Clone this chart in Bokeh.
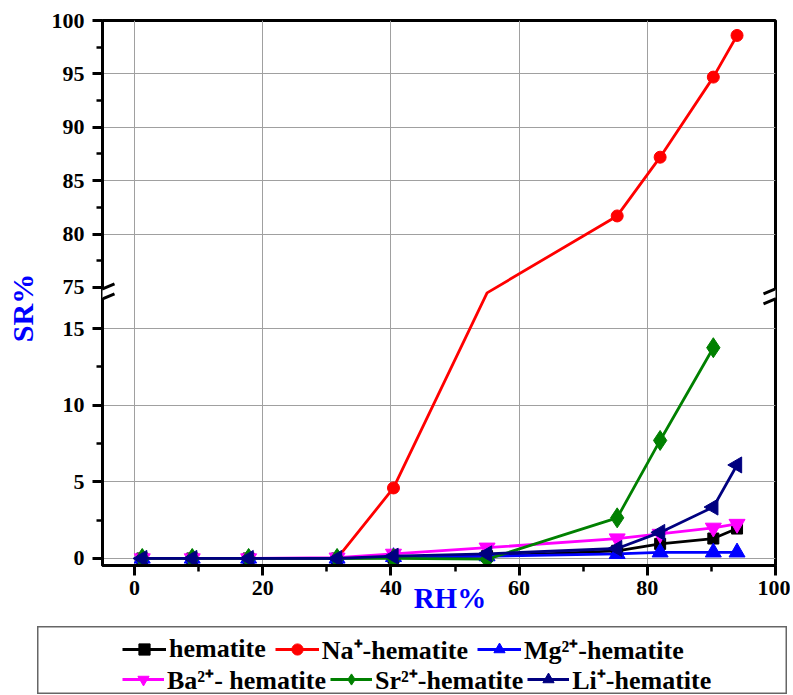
import math
from bokeh.plotting import figure
from bokeh.models import (ColumnDataSource, Range1d, FixedTicker, CustomJSTickFormatter,
                          CustomJSTransform, Legend, LegendItem, Arrow, Spacer)
from bokeh.layouts import column, row
from bokeh.transform import transform
from bokeh.embed import file_html
from bokeh.resources import INLINE

# ---------------- data ----------------
RH = [1.2, 9.0, 17.8, 31.6, 40.4, 55.0, 75.3, 82.0, 90.3, 94.0]
hematite = [0.0, 0.0, 0.0, 0.0, 0.05, 0.15, 0.5, 0.95, 1.3, 1.95]
na_hematite = [0.0, 0.0, 0.0, 0.0, 4.6, 74.5, 81.7, 87.2, 94.7, 98.6]
mg_hematite = [0.0, 0.0, 0.0, 0.0, 0.1, 0.15, 0.3, 0.4, 0.4, 0.4]
ba_hematite = [0.0, 0.0, 0.0, 0.05, 0.3, 0.7, 1.3, 1.6, 2.0, 2.25]
sr_hematite = [0.0, 0.0, 0.0, 0.0, 0.0, -0.05, 2.65, 7.7, 13.75]
li_hematite = [0.0, 0.0, 0.0, 0.0, 0.15, 0.3, 0.65, 1.7, 3.35, 6.1]

labels = ["hematite", "Na\u207a-hematite", "Mg\u00b2\u207a-hematite",
          "Ba\u00b2\u207a- hematite", "Sr\u00b2\u207a-hematite", "Li\u207a-hematite"]
values = [hematite, na_hematite, mg_hematite, ba_hematite, sr_hematite, li_hematite]

x_ticks = [0, 20, 40, 60, 80, 100]
x_minor = [10, 30, 50, 70, 90]
y_ticks = [0, 5, 10, 15, 75, 80, 85, 90, 95, 100]
y_minor = [2.5, 7.5, 12.5, 77.5, 82.5, 87.5, 92.5, 97.5]
y_grid = [0, 5, 10, 15, 80, 85, 90, 95]

# ---------------- styles ----------------
colors = ["black", "#FF0000", "#0000FF", "#FF00FF", "#008000", "#000080"]
markers = ["square", "circle", "triangle", "inverted_triangle", "diamond", "triangle"]
msizes = [11, 12, 16, 16, 20, 16]
angles = [0, 0, 0, 0, 0, math.pi / 2]
FONT = "Liberation Serif"
NBSP = "\u00a0"

# broken axis mapping
LOW_MAX = 17.2
UP_MIN = 74.5
UP_T0 = 17.33
K = 0.6968


def fwd(y):
    if y <= LOW_MAX:
        return y
    if y >= UP_MIN:
        return UP_T0 + (y - UP_MIN) * K
    return LOW_MAX + (y - LOW_MAX) / (UP_MIN - LOW_MAX) * (UP_T0 - LOW_MAX)


JS_F = """
function f(y) {
  if (y <= L) return y;
  if (y >= U) return T + (y - U) * k;
  return L + (y - L) / (U - L) * (T - L);
}
"""
jargs = dict(L=LOW_MAX, U=UP_MIN, T=UP_T0, k=K)
brk = CustomJSTransform(args=jargs, func=JS_F + "return f(x);",
                        v_func=JS_F + "const out = new Float64Array(xs.length);"
                               "for (let i = 0; i < xs.length; i++) { out[i] = f(xs[i]); }"
                               "return out;")

Y_MIN = -0.46
X_MIN, X_MAX = -5, 100

p = figure(width=790, height=626, toolbar_location=None, output_backend="svg",
           x_range=Range1d(X_MIN, X_MAX), y_range=Range1d(Y_MIN, fwd(100)),
           min_border_left=102, min_border_right=15, min_border_top=20, min_border_bottom=61,
           background_fill_color="white", border_fill_color="white")
p.outline_line_color = "black"
p.outline_line_width = 3

# grids
p.xgrid.ticker = FixedTicker(ticks=x_ticks[:-1])
p.ygrid.ticker = FixedTicker(ticks=[fwd(v) for v in y_grid])
p.grid.grid_line_color = "#a0a0a0"
p.grid.grid_line_width = 1

# axes
p.xaxis.ticker = FixedTicker(ticks=x_ticks, minor_ticks=x_minor)
p.yaxis.ticker = FixedTicker(ticks=[fwd(v) for v in y_ticks],
                             minor_ticks=[fwd(v) for v in y_minor])
p.yaxis.formatter = CustomJSTickFormatter(args=jargs, code="""
  let v = tick;
  if (tick >= T) { v = U + (tick - T) / k; }
  return Math.round(v).toString();
""")
for ax in (p.xaxis[0], p.yaxis[0]):
    ax.axis_line_width = 3
    ax.axis_line_color = "black"
    ax.major_tick_line_width = 3
    ax.minor_tick_line_width = 2.5
    ax.major_tick_in = 0
    ax.major_tick_out = 10
    ax.minor_tick_in = 0
    ax.minor_tick_out = 6
    ax.major_label_text_font = FONT
    ax.major_label_text_font_style = "bold"
    ax.major_label_text_font_size = "22px"
    ax.major_label_text_color = "black"
    ax.axis_label_text_font = FONT
    ax.axis_label_text_font_style = "bold"
    ax.axis_label_text_color = "#0000FF"
p.xaxis.major_label_standoff = 5
p.yaxis.major_label_standoff = 8

# axis titles
p.xaxis.axis_label = NBSP * 3 + "RH%"
p.xaxis.axis_label_text_font_size = "29px"
p.xaxis.axis_label_standoff = -16
p.yaxis.axis_label = "SR%" + NBSP * 4
p.yaxis.axis_label_text_font_size = "30px"
p.yaxis.axis_label_standoff = 10

# series
for lab, ys, col, mk, ms, ang in zip(labels, values, colors, markers, msizes, angles):
    xs = RH[:len(ys)]
    src = ColumnDataSource(dict(x=xs, y=ys))
    p.line(x="x", y=transform("y", brk), source=src, line_color=col, line_width=2.8)
    mx = [x for x, y in zip(xs, ys) if not (LOW_MAX < y < 75)]
    my = [y for y in ys if not (LOW_MAX < y < 75)]
    msrc = ColumnDataSource(dict(x=mx, y=my))
    p.scatter(x="x", y=transform("y", brk), source=msrc, marker=mk, size=ms,
              angle=ang, fill_color=col, line_color=col)

# axis break symbols
t_brk = (LOW_MAX + UP_T0) / 2
dxu = 12 / 6.41
dyu = 5 / 15.33
sep = 5 / 15.33
for x0 in (X_MIN, X_MAX):
    p.add_layout(Arrow(x_start=x0 - dxu, y_start=t_brk - dyu, x_end=x0 + dxu, y_end=t_brk + dyu,
                       start=None, end=None, line_color="white", line_width=8))
    for s in (-sep, sep):
        p.add_layout(Arrow(x_start=x0 - dxu, y_start=t_brk - dyu + s, x_end=x0 + dxu,
                           y_end=t_brk + dyu + s, start=None, end=None,
                           line_color="black", line_width=3))

# ---------------- legend panel ----------------
lf = figure(width=750, height=68, toolbar_location=None, output_backend="svg",
            x_range=Range1d(0, 1), y_range=Range1d(0, 1),
            x_axis_location=None, y_axis_location=None, min_border=0,
            border_fill_color="white", background_fill_color="white")
lf.grid.visible = False
lf.outline_line_color = "#666666"
lf.outline_line_width = 2

items = []
for lab, col, mk, ms, ang in zip(labels, colors, markers, msizes, angles):
    e = ColumnDataSource(dict(x=[float("nan")], y=[float("nan")]))
    r1 = lf.line(x="x", y="y", source=e, line_color=col, line_width=2.8)
    r2 = lf.scatter(x="x", y="y", source=e, marker=mk, size=ms, angle=ang,
                    fill_color=col, line_color=col)
    items.append(LegendItem(label=lab, renderers=[r1, r2]))

for its, loc, gw, sp in ((items[:3], (85, 27), 44, 9), (items[3:], (85, -3), 42, 4)):
    lg = Legend(items=its, orientation="horizontal", location=loc,
                padding=0, margin=0, spacing=sp, glyph_width=gw, glyph_height=28,
                label_height=28, label_standoff=3,
                label_text_font=FONT, label_text_font_style="bold",
                label_text_font_size="26px", label_text_color="black",
                border_line_color=None, background_fill_alpha=0)
    lf.add_layout(lg)

layout = column(p, row(Spacer(width=37), lf))
open("out.html", "w").write(file_html(layout, INLINE))
